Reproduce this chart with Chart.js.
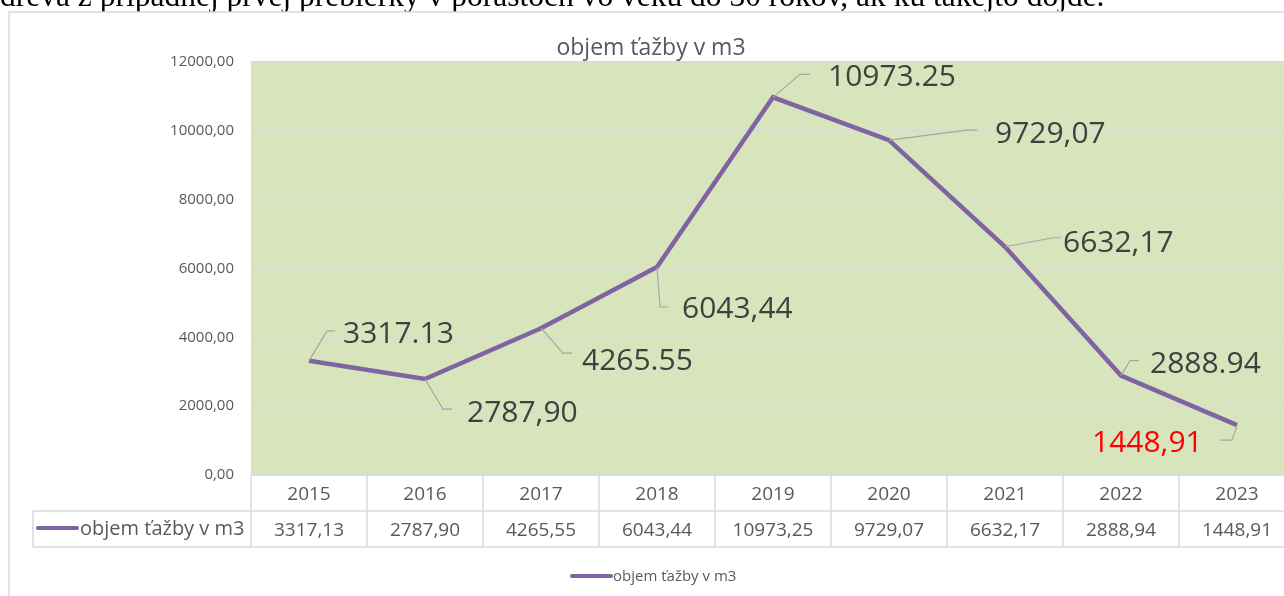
<!DOCTYPE html>
<html>
<head>
<meta charset="utf-8">
<script src="https://cdn.jsdelivr.net/npm/chart.js@4/dist/chart.umd.min.js"></script>
<style>
  html, body { margin: 0; padding: 0; background: #fff; overflow: hidden; }
  #wrap { position: relative; width: 1310px; height: 596px; }
</style>
</head>
<body>
<div id="wrap"><canvas id="chart" width="1310" height="596"></canvas></div>
<script>
const headerText = 'dreva z prípadnej prvej prebierky v porastoch vo veku do 30 rokov, ak ku takejto dôjde.';
const chartTitle = 'objem ťažby v m3';
const seriesName = 'objem ťažby v m3';
const years = ['2015', '2016', '2017', '2018', '2019', '2020', '2021', '2022', '2023'];
const volumes = [3317.13, 2787.90, 4265.55, 6043.44, 10973.25, 9729.07, 6632.17, 2888.94, 1448.91];
// labels as printed on the chart (mixed decimal separators kept as in the source)
const pointLabels = ['3317.13', '2787,90', '4265.55', '6043,44', '10973.25', '9729,07', '6632,17', '2888.94', '1448,91'];
const yMin = 0, yMax = 12000, yStep = 2000;

// label placement relative to each point: text offset, leader elbow, tail length
const labelPos = [
  { dx: 34,   dy: -18, ex: 18, ey: -30, tail: 8 },
  { dx: 42,   dy: 43,  ex: 18, ey: 30,  tail: 9 },
  { dx: 41,   dy: 42,  ex: 22, ey: 25,  tail: 9 },
  { dx: 25,   dy: 51,  ex: 3,  ey: 40,  tail: 8 },
  { dx: 55,   dy: -11, ex: 27, ey: -23, tail: 10 },
  { dx: 106,  dy: 3,   ex: 78, ey: -10, tail: 10 },
  { dx: 58,   dy: 5,   ex: 48, ey: -9,  tail: 8 },
  { dx: 29,   dy: -3,  ex: 9,  ey: -15, tail: 9 },
  { dx: -145, dy: 27,  ex: -5, ey: 15,  tail: -12 },
];

const FONT = '"Open Sans", sans-serif';
const purple = '#8064a2';
const gridGray = '#d9d9d9';
const textGray = '#595959';

const fmt = v => v.toFixed(2).replace('.', ',');

const decor = {
  id: 'decor',
  beforeDraw(chart) {
    const { ctx, chartArea: a } = chart;
    ctx.save();
    // header text cut off at top of page
    ctx.fillStyle = '#000';
    ctx.font = '31.5px "Liberation Serif", "Times New Roman", serif';
    ctx.textBaseline = 'alphabetic';
    ctx.fillText(headerText, 0, 6);
    // chart frame
    ctx.fillStyle = '#fff';
    ctx.fillRect(0, 12, 1310, 600);
    ctx.strokeStyle = gridGray;
    ctx.lineWidth = 1.5;
    ctx.beginPath();
    ctx.moveTo(9, 600); ctx.lineTo(9, 12); ctx.lineTo(1310, 12);
    ctx.stroke();
    // plot area fill
    ctx.fillStyle = '#d8e4bc';
    ctx.fillRect(a.left, a.top, a.right - a.left, a.bottom - a.top);
    // title
    ctx.fillStyle = textGray;
    ctx.font = '23px ' + FONT;
    ctx.textAlign = 'center';
    ctx.fillText(chartTitle, 651, 55);
    ctx.restore();
  },
  afterDraw(chart) {
    const { ctx, chartArea: a, scales: { x } } = chart;
    const meta = chart.getDatasetMeta(0);
    const colW = x.getPixelForValue(1) - x.getPixelForValue(0);
    ctx.save();

    // data labels with leader lines
    ctx.font = '30px ' + FONT;
    ctx.textAlign = 'left';
    ctx.textBaseline = 'alphabetic';
    meta.data.forEach((pt, i) => {
      const p = labelPos[i];
      ctx.strokeStyle = '#a6a6a6';
      ctx.lineWidth = 1.2;
      ctx.beginPath();
      ctx.moveTo(pt.x, pt.y);
      ctx.lineTo(pt.x + p.ex, pt.y + p.ey);
      ctx.lineTo(pt.x + p.ex + p.tail, pt.y + p.ey);
      ctx.stroke();
      ctx.fillStyle = i === volumes.length - 1 ? '#ff0000' : '#404040';
      ctx.fillText(pointLabels[i], pt.x + p.dx, pt.y + p.dy);
    });

    // data table
    const rowTop = a.bottom, rowMid = a.bottom + 36, rowBot = a.bottom + 72;
    const tableLeft = 33;
    const right = a.left + colW * years.length;
    ctx.strokeStyle = gridGray;
    ctx.lineWidth = 1.5;
    ctx.beginPath();
    ctx.moveTo(a.left, rowTop); ctx.lineTo(right, rowTop);
    ctx.moveTo(tableLeft, rowMid); ctx.lineTo(right, rowMid);
    ctx.moveTo(tableLeft, rowBot); ctx.lineTo(right, rowBot);
    ctx.moveTo(tableLeft, rowMid); ctx.lineTo(tableLeft, rowBot);
    for (let i = 0; i <= years.length; i++) {
      const cx = a.left + colW * i;
      ctx.moveTo(cx, rowTop); ctx.lineTo(cx, rowBot);
    }
    ctx.stroke();

    ctx.fillStyle = textGray;
    ctx.font = '19px ' + FONT;
    ctx.textAlign = 'center';
    years.forEach((y, i) => {
      const cx = x.getPixelForValue(i);
      ctx.fillText(y, cx, rowTop + 25);
      ctx.fillText(fmt(volumes[i]), cx, rowMid + 25);
    });

    // row key
    ctx.strokeStyle = purple;
    ctx.lineWidth = 4;
    ctx.lineCap = 'round';
    ctx.beginPath();
    ctx.moveTo(38, rowMid + 17); ctx.lineTo(77, rowMid + 17);
    ctx.stroke();
    ctx.font = '20px ' + FONT;
    ctx.textAlign = 'left';
    ctx.fillText(seriesName, 80, rowMid + 24);

    // legend
    ctx.beginPath();
    ctx.moveTo(572, 576); ctx.lineTo(611, 576);
    ctx.stroke();
    ctx.font = '15px ' + FONT;
    ctx.fillText(seriesName, 613, 581);
    ctx.restore();
  }
};

new Chart(document.getElementById('chart'), {
  type: 'line',
  data: {
    labels: years,
    datasets: [{
      label: seriesName,
      data: volumes,
      borderColor: purple,
      backgroundColor: purple,
      borderWidth: 4.5,
      pointRadius: 0,
      tension: 0,
    }]
  },
  options: {
    responsive: false,
    animation: false,
    layout: { padding: { top: 62, right: 15, bottom: 121, left: 0 } },
    plugins: {
      legend: { display: false },
      tooltip: { enabled: false },
      title: { display: false }
    },
    scales: {
      x: { display: false, offset: true },
      y: {
        min: yMin, max: yMax,
        afterFit: s => { s.width = 251; },
        border: { display: false },
        grid: { color: gridGray, lineWidth: 1.5, drawTicks: false },
        ticks: {
          stepSize: yStep,
          padding: 17,
          color: textGray,
          font: { family: FONT, size: 15 },
          callback: v => fmt(v)
        }
      }
    }
  },
  plugins: [decor]
});
</script>
</body>
</html>
